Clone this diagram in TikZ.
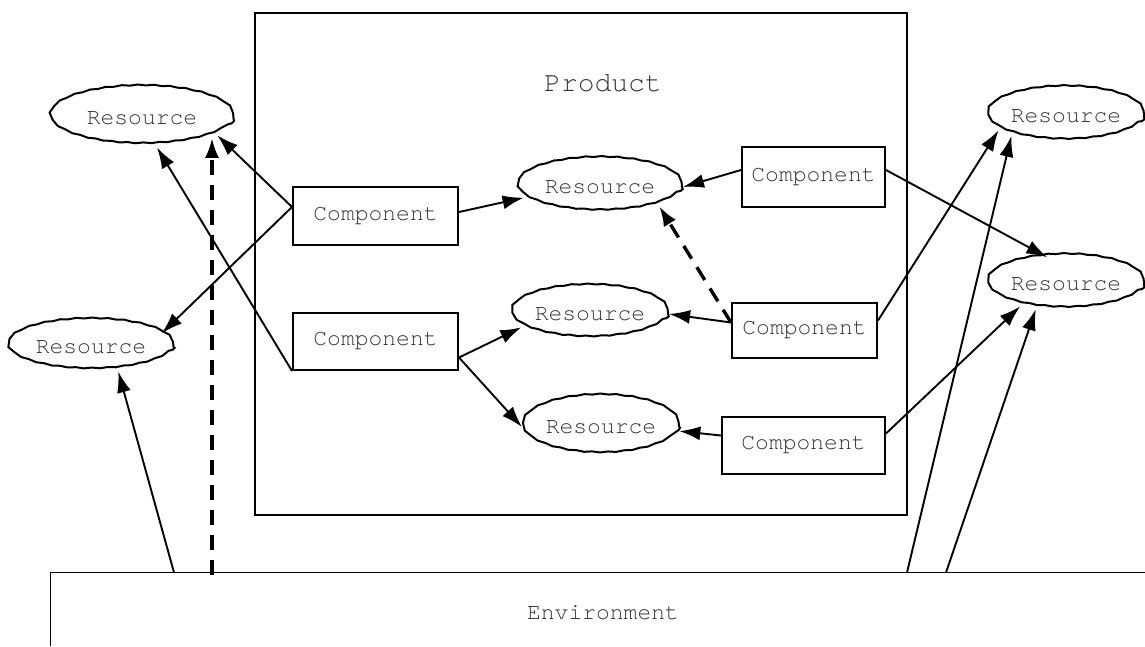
\documentclass[tikz,border=0pt]{standalone}
\usepackage{fontspec}
\setmonofont{TeX Gyre Cursor}
\usetikzlibrary{shapes.geometric,arrows.meta,decorations.pathmorphing,calc}

\tikzset{
  txt/.style={font=\ttfamily\fontsize{23}{27}\selectfont, text=black!80},
  res/.style 2 args={ellipse, draw, line width=2pt, inner sep=0pt,
    minimum width=#1pt, minimum height=#2pt, txt,
    decorate, decoration={snake, amplitude=0.45pt, segment length=16pt}},
  comp/.style 2 args={rectangle, draw, line width=2pt, inner sep=0pt,
    minimum width=#1pt, minimum height=#2pt, txt},
  frame/.style={rectangle, draw, line width=1.7pt, inner sep=0pt},
  arr/.style={line width=1.9pt, -{Latex[length=21pt,width=14pt]}},
  darr/.style={line width=3.4pt, dash pattern=on 15pt off 10pt,
    -{Latex[length=20pt,width=14pt]}},
}

\begin{document}
\begin{tikzpicture}[x=1pt,y=-1pt]
  \useasboundingbox (0,0) rectangle (1145,646);

  % outer frames
  \node[frame, minimum width=652pt, minimum height=502pt] (product) at (581,264) {};
  \node[txt, font=\ttfamily\fontsize{28}{32}\selectfont] (ptitle) at (603,83) {Product};
  \node[rectangle, inner sep=0pt, minimum width=1094pt, minimum height=73pt,
        anchor=north west] (env) at (50.5,572.5) {};
  \draw[line width=1.7pt] (env.south west) -- (env.north west) -- (env.north east);
  \node[txt] (etitle) at (603,613) {Environment};

  % resources
  \node[res={183}{58}] (R1) at (142,118) {Resource};
  \node[res={165}{50}] (R2) at (91,347) {Resource};
  \node[res={164}{53}] (R3) at (600,187) {Resource};
  \node[res={144}{52}] (R4) at (590,314) {Resource};
  \node[res={142}{58}] (R5) at (601,427) {Resource};
  \node[res={156}{53}] (R6) at (1066,116) {Resource};
  \node[res={156}{53}] (R7) at (1066,284) {Resource};

  % components
  \node[comp={165}{58}] (C1) at (375.5,216) {Component};
  \node[comp={165}{57}] (C2) at (375.5,341.5) {Component};
  \node[comp={143}{60}] (C3) at (813.5,177) {Component};
  \node[comp={145}{55}] (C4) at (804.5,330.5) {Component};
  \node[comp={163}{57}] (C5) at (803.5,445.5) {Component};

  % connector start points on the components
  \coordinate (c1w) at ($(C1.west)+(0,-9)$);
  \coordinate (c1e) at ($(C1.east)+(0,-4)$);
  \coordinate (c2e) at ($(C2.east)+(0,16)$);
  \coordinate (c3w) at ($(C3.west)+(0,-7)$);
  \coordinate (c3e) at ($(C3.east)+(0,-7)$);
  \coordinate (c4w) at ($(C4.west)+(0,-8)$);
  \coordinate (c4e) at ($(C4.east)+(0,-10)$);
  \coordinate (c5w) at ($(C5.west)+(0,-10)$);
  \coordinate (c5e) at ($(C5.east)+(0,-12)$);

  % connector start points on the environment
  \coordinate (e1) at (174,572.5);
  \coordinate (e2) at (212,575);
  \coordinate (e3) at (907,572.5);
  \coordinate (e4) at (946,572.5);

  % component dependencies
  \draw[arr] (c1w) -- (R1.-13);
  \draw[arr] (c1w) -- (R2.11);
  \draw[arr] (C2.south west) -- (R1.-63);
  \draw[arr] (c1e) -- (R3.188);
  \draw[arr] (c2e) -- (R4.191);
  \draw[arr] (c2e) -- (R5.west);
  \draw[arr] (c3w) -- (R3.east);
  \draw[arr] (c3e) -- (R7.125);
  \draw[arr] (c4w) -- (R4.east);
  \draw[darr] (c4w) -- (R3.-18);
  \draw[arr] (c4e) -- (R6.192);
  \draw[arr] (c5w) -- (R5.-3);
  \draw[arr] (c5e) -- (R7.206);

  % environment dependencies
  \draw[arr] (e1) -- (R2.-42);
  \draw[darr] (e2) -- (e2 |- R1.-16);
  \draw[arr] (e3) -- (R6.200);
  \draw[arr] (e4) -- (R7.220);
\end{tikzpicture}
\end{document}
